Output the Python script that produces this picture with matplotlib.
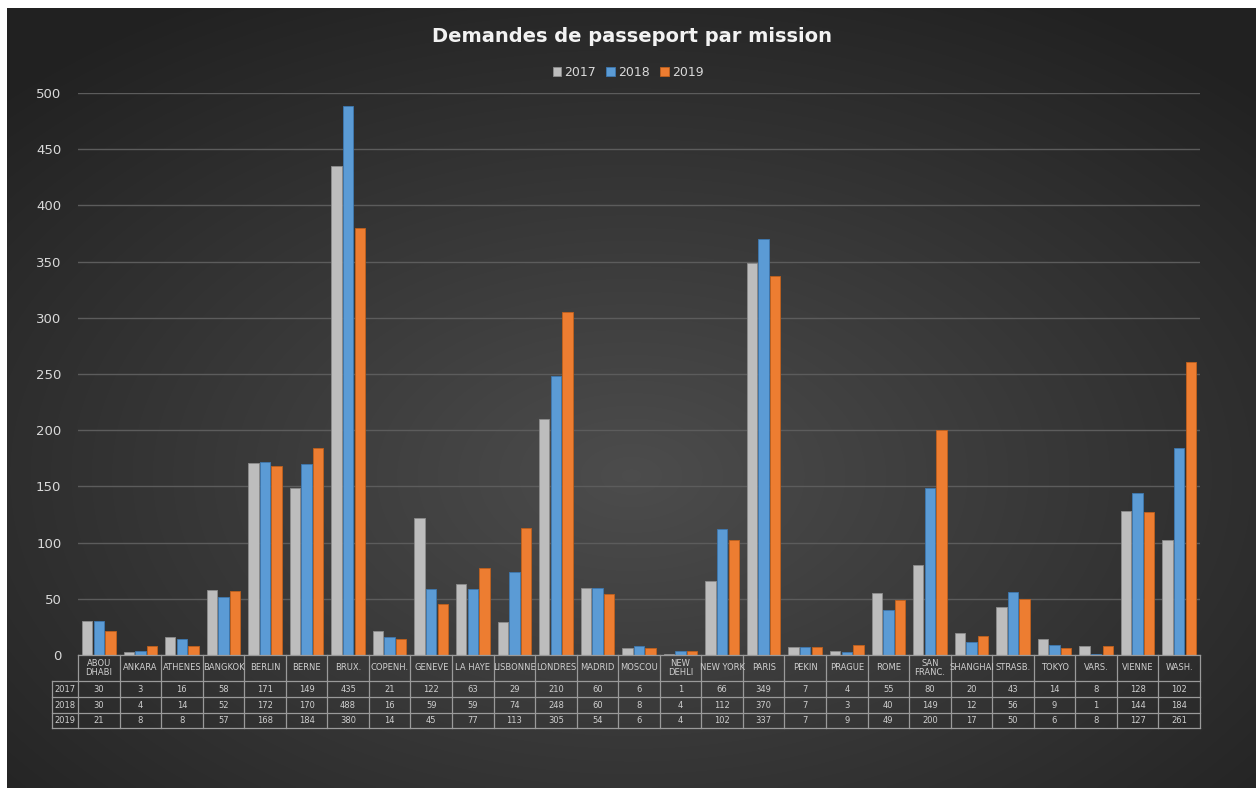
import numpy as np
import matplotlib
matplotlib.use('Agg')
import matplotlib.pyplot as plt

# données
missions = ['ABOU\nDHABI', 'ANKARA', 'ATHENES', 'BANGKOK', 'BERLIN', 'BERNE', 'BRUX.',
            'COPENH.', 'GENEVE', 'LA HAYE', 'LISBONNE', 'LONDRES', 'MADRID', 'MOSCOU',
            'NEW\nDEHLI', 'NEW YORK', 'PARIS', 'PEKIN', 'PRAGUE', 'ROME', 'SAN\nFRANC.',
            'SHANGHAI', 'STRASB.', 'TOKYO', 'VARS.', 'VIENNE', 'WASH.']
annees = ['2017', '2018', '2019']
v2017 = [30, 3, 16, 58, 171, 149, 435, 21, 122, 63, 29, 210, 60, 6, 1, 66, 349, 7, 4,
         55, 80, 20, 43, 14, 8, 128, 102]
v2018 = [30, 4, 14, 52, 172, 170, 488, 16, 59, 59, 74, 248, 60, 8, 4, 112, 370, 7, 3,
         40, 149, 12, 56, 9, 1, 144, 184]
v2019 = [21, 8, 8, 57, 168, 184, 380, 14, 45, 77, 113, 305, 54, 6, 4, 102, 337, 7, 9,
         49, 200, 17, 50, 6, 8, 127, 261]
couleurs = ['#bdbdbd', '#5b9bd5', '#ed7d31']
bords = ['#8c8c8c', '#3d78b0', '#c0601c']

W, H = 1256, 789
fig = plt.figure(figsize=(W / 100, H / 100), dpi=100, facecolor='white')

# fond en dégradé radial
bg = fig.add_axes([7 / W, 1 / H, (W - 7) / W, (H - 9) / H])
yy, xx = np.mgrid[0:1:300j, 0:1:480j]
r = np.sqrt(((xx - 0.5) / 0.75) ** 2 + ((yy - 0.6) / 0.75) ** 2)
g = np.clip(0.30 - 0.18 * r, 0.13, 0.30)
img = np.dstack([g, g, g])
bg.imshow(img, aspect='auto', extent=[0, 1, 0, 1], interpolation='bilinear')
bg.axis('off')

# zone de tracé
x0, x1 = 78, 1200
y_top, y_zero = 93, 655
ax = fig.add_axes([x0 / W, (H - y_zero) / H, (x1 - x0) / W, (y_zero - y_top) / H])
ax.patch.set_alpha(0)
n = len(missions)
x = np.arange(n) + 0.5
series = [v2017, v2018, v2019]
for k, vals in enumerate(series):
    ax.bar(x + (k - 1) * 0.28, vals, width=0.25, color=couleurs[k],
           edgecolor=bords[k], linewidth=0.6, zorder=3, label=annees[k])
ax.set_xlim(0, n)
ax.set_ylim(0, 500)
ax.set_yticks(range(0, 501, 50))
ax.yaxis.grid(True, color='#5c5c5c', linewidth=1)
ax.set_axisbelow(True)
ax.set_xticks([])
ax.tick_params(axis='y', length=0, pad=12, labelcolor='#d9d9d9', labelsize=9.5)
for s in ax.spines.values():
    s.set_visible(False)

fig.text(632 / W, 1 - 37 / H, 'Demandes de passeport par mission', ha='center', va='center',
         color='#f2f2f2', fontsize=14, fontweight='bold', family='DejaVu Sans')
ax.legend(loc='center', bbox_to_anchor=(0.5, (H - 72) / H), bbox_transform=fig.transFigure,
          ncol=3, frameon=False, fontsize=9, labelcolor='#d9d9d9', handlelength=0.7,
          handleheight=0.7, handletextpad=0.25, columnspacing=0.8)

# tableau de données
tax = fig.add_axes([x0 / W, (H - 728) / H, (x1 - x0) / W, (728 - 655) / H])
tax.set_xlim(0, n)
tax.set_ylim(73, 0)
tax.axis('off')
lc = '#9a9a9a'
lignes = [0, 26, 42, 58, 73]
xg = -26 / ((x1 - x0) / n)
tax.plot([0, n], [0, 0], color=lc, lw=0.9, clip_on=False)
for yl in lignes[1:]:
    tax.plot([xg, n], [yl, yl], color=lc, lw=0.9, clip_on=False)
for i in range(n + 1):
    tax.plot([i, i], [0, 73], color=lc, lw=0.9, clip_on=False)
tax.plot([xg, xg], [26, 73], color=lc, lw=0.9, clip_on=False)
tc = '#cfcfcf'
for i, m in enumerate(missions):
    tax.text(i + 0.5, 13, m, ha='center', va='center', color=tc, fontsize=6,
             linespacing=1.1, clip_on=False)
    for k, vals in enumerate(series):
        tax.text(i + 0.5, (lignes[k + 1] + lignes[k + 2]) / 2, str(vals[i]), ha='center',
                 va='center', color=tc, fontsize=6)
for k, a in enumerate(annees):
    tax.text(xg / 2, (lignes[k + 1] + lignes[k + 2]) / 2, a, ha='center', va='center',
             color=tc, fontsize=6, clip_on=False)

fig.savefig('out.png', dpi=100, facecolor='white')
